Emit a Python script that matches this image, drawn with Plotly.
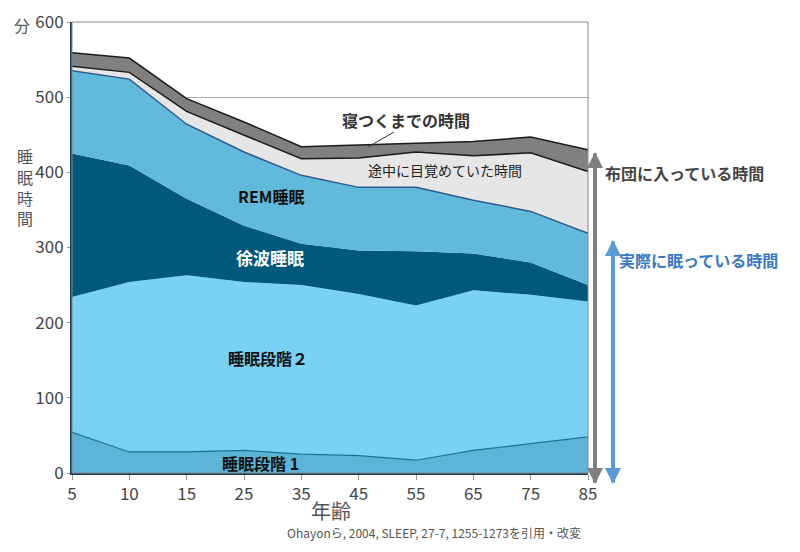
import plotly.graph_objects as go

# 年齢階級(横軸カテゴリ)
ages = ["5", "10", "15", "25", "35", "45", "55", "65", "75", "85"]

# 各段階の時間(分) - 図から読み取り、下から順に積み上げる
stage1 = [54, 28, 28, 30, 25, 23, 17, 30, 39, 48]
stage2 = [180, 226, 235, 224, 225, 215, 206, 213, 198, 180]
sws = [191, 155, 102, 75, 55, 58, 72, 49, 43, 22]
rem = [110, 115, 99, 98, 91, 84, 85, 71, 68, 69]
waso = [6, 9, 17, 23, 22, 39, 47, 59, 78, 82]
latency = [18, 19, 17, 17, 16, 17, 12, 19, 21, 29]

y_ticks = [0, 100, 200, 300, 400, 500, 600]

FONT = "Noto Sans CJK JP"

# plot area in window pixels (800x552 window)
L, R, T, B = 72, 588, 22, 473
# the page body adds an offset to the figure
DX, DY = 8, 8


def px(x):
    return (x - L) / (R - L)


def py(y):
    return (B - y) / (B - T)


layers = [
    ("睡眠段階1", stage1, "#5cb4d8", dict(color="#1d6f8e", width=1.2)),
    ("睡眠段階2", stage2, "#79d2f4", dict(width=0)),
    ("徐波睡眠", sws, "#00587a", dict(width=0)),
    ("REM睡眠", rem, "#61b9dc", dict(color="#2c5a8c", width=1.5)),
    ("途中覚醒", waso, "#e6e6e6", dict(color="#1a1a1a", width=1.5)),
    ("入眠潜時", latency, "#808080", dict(color="#1a1a1a", width=1.5)),
]

fig = go.Figure()
for name, vals, color, line in layers:
    fig.add_trace(
        go.Scatter(
            x=ages, y=vals, name=name, mode="lines", stackgroup="sleep",
            fillcolor=color, line=line, hoverinfo="x+y+name",
        )
    )

fig.update_layout(
    width=800, height=552,
    margin=dict(l=L - DX, r=800 - (R - DX), t=T - DY, b=552 - (B - DY)),
    paper_bgcolor="white", plot_bgcolor="white",
    showlegend=False,
    font=dict(family=FONT, color="#444"),
)
fig.update_xaxes(
    type="category", range=[0, 9], showgrid=False,
    showline=True, linecolor="#1f3a60", linewidth=2,
    ticks="outside", ticklen=5, tickcolor="#999",
    tickfont=dict(size=17, color="#444", family=FONT),
    ticklabeloverflow="allow", automargin=False,
)
fig.update_yaxes(
    range=[0, 600], tickvals=y_ticks, showgrid=True, gridcolor="#b0b0b0",
    showline=True, linecolor="#1f3a60", linewidth=2,
    ticks="outside", ticklen=3, tickcolor="#999", zeroline=False,
    tickfont=dict(size=17, color="#444", family=FONT),
    ticklabeloverflow="allow", automargin=False,
)

# frame at top and right
fig.add_shape(type="rect", xref="paper", yref="paper", x0=0, x1=1, y0=0, y1=1,
              line=dict(color="#888", width=1), layer="above")

# leader line for 寝つくまでの時間
fig.add_shape(type="line", xref="paper", yref="paper",
              x0=px(368), y0=py(147), x1=px(394), y1=py(132),
              line=dict(color="#333", width=1))


def label(text, x, y, size, color="#111", bold=True, xanchor="center"):
    fig.add_annotation(
        text=f"<b>{text}</b>" if bold else text,
        xref="paper", yref="paper", x=px(x), y=py(y),
        showarrow=False, xanchor=xanchor, yanchor="middle",
        font=dict(size=size, color=color, family=FONT),
    )


label("REM睡眠", 271, 196, 16)
label("徐波睡眠", 270, 258, 17, color="white")
label("睡眠段階２", 268, 358, 16)
label("睡眠段階 1", 260, 463, 16)
label("寝つくまでの時間", 406, 120, 16, color="#333")
label("途中に目覚めていた時間", 445, 170, 14, color="#222", bold=False)
label("布団に入っている時間", 603, 173, 16, color="#444", xanchor="left")
label("実際に眠っている時間", 617, 260, 16, color="#3b78c2", xanchor="left")

label("分", 22, 25, 16, color="#555", bold=False)
label("睡<br>眠<br>時<br>間", 25, 187, 16, color="#555", bold=False)
label("年齢", 331, 510, 20, color="#555", bold=False)
label("Ohayonら, 2004, SLEEP, 27-7, 1255-1273を引用・改変", 434, 532, 12,
      color="#555", bold=False)

# double-headed arrows on the right
for xp, ytop, color in [(595, 152, "#7f7f7f"), (613, 240, "#5b9bd5")]:
    for y_head, y_tail in [(ytop, 484), (484, ytop)]:
        fig.add_annotation(
            xref="paper", yref="paper", x=px(xp), y=py(y_head),
            axref="pixel", ayref="pixel", ax=0, ay=y_tail - y_head,
            text="", showarrow=True, arrowhead=2, arrowsize=0.8,
            arrowwidth=4, arrowcolor=color,
        )

fig.write_html("out.html")
